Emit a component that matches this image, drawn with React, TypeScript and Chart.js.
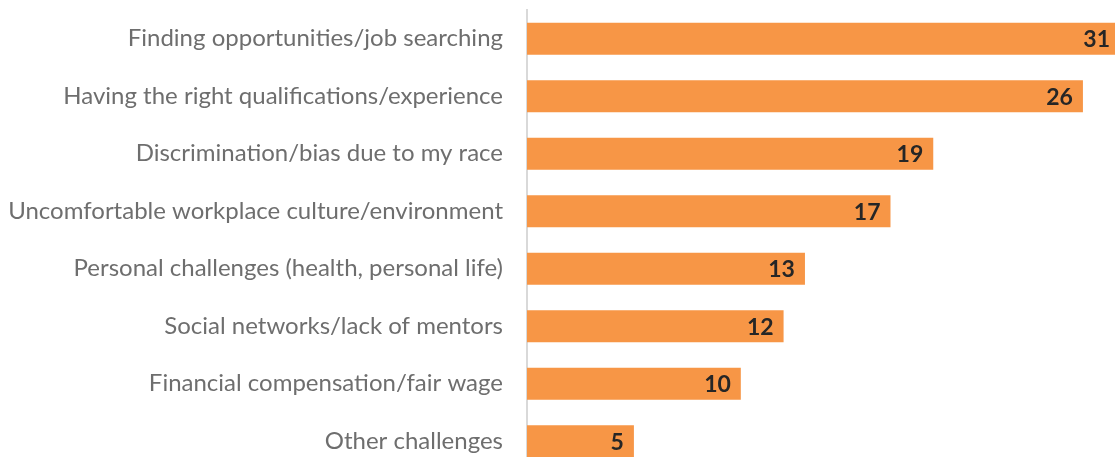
import React, { useEffect, useRef } from "react";
import { Chart, registerables } from "chart.js";

Chart.register(...registerables);

const categories: string[] = [
  "Finding opportunities/job searching",
  "Having the right qualifications/experience",
  "Discrimination/bias due to my race",
  "Uncomfortable workplace culture/environment",
  "Personal challenges (health, personal life)",
  "Social networks/lack of mentors",
  "Financial compensation/fair wage",
  "Other challenges",
];
const values: number[] = [31, 26, 19, 17, 13, 12, 10, 5];
const axisMax = 27.5;

const FONT = "Lato, 'Open Sans', sans-serif";

const valueLabels = {
  id: "valueLabels",
  afterDatasetsDraw(chart: any) {
    const { ctx, chartArea } = chart;
    const meta = chart.getDatasetMeta(0);
    ctx.save();
    ctx.font = `bold 23px ${FONT}`;
    ctx.fillStyle = "#262626";
    ctx.textAlign = "right";
    ctx.textBaseline = "middle";
    meta.data.forEach((bar: any, i: number) => {
      const x = Math.min(bar.x - 10, chartArea.right - 5);
      ctx.fillText(String(values[i]), x, bar.y + 1);
    });
    ctx.restore();
  },
};

export default function App() {
  const ref = useRef<HTMLCanvasElement>(null);
  useEffect(() => {
    document.body.style.margin = "0";
    const chart = new Chart(ref.current!, {
      type: "bar",
      data: {
        labels: categories,
        datasets: [
          {
            data: values,
            backgroundColor: "#F79646",
            borderWidth: 0,
            categoryPercentage: 1,
            barPercentage: 0.557,
          },
        ],
      },
      options: {
        indexAxis: "y",
        animation: false,
        responsive: true,
        maintainAspectRatio: false,
        layout: { padding: { top: 10, bottom: 0, left: 0, right: 0 } },
        plugins: { legend: { display: false }, tooltip: { enabled: false } },
        scales: {
          x: { display: false, min: 0, max: axisMax },
          y: {
            afterFit(scale: any) {
              scale.width = 527;
              scale.paddingTop = 0;
              scale.paddingBottom = 0;
            },
            grid: { display: false, drawTicks: false },
            border: { display: true, color: "#D9D9D9", width: 2 },
            ticks: {
              padding: 24,
              color: "#6E6E6E",
              font: { family: FONT, size: 24 },
            },
          },
        },
      },
      plugins: [valueLabels],
    });
    return () => chart.destroy();
  }, []);
  return (
    <div style={{ width: 1115, height: 457, overflow: "hidden" }}>
      <div style={{ position: "relative", width: 1115, height: 470 }}>
        <canvas ref={ref} />
      </div>
    </div>
  );
}
